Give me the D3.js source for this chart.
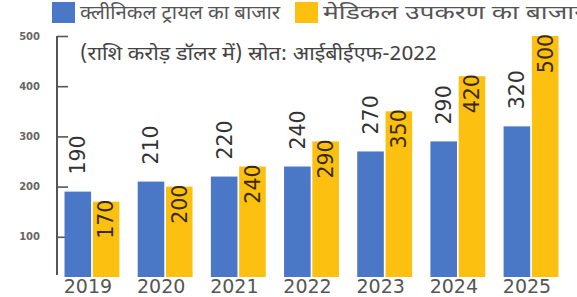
<!DOCTYPE html>
<html>
<head>
<meta charset="utf-8">
<script src="https://cdn.jsdelivr.net/npm/d3@7"></script>
<style>
  body { margin: 0; background: #fff; }
  svg { display: block; }
</style>
</head>
<body>
<svg id="chart" width="577" height="297"></svg>
<script>
const years = ["2019", "2020", "2021", "2022", "2023", "2024", "2025"];
const clinicalTrials = [190, 210, 220, 240, 270, 290, 320];
const medicalDevices = [170, 200, 240, 290, 350, 420, 500];
const yTicks = [100, 200, 300, 400, 500];
const seriesNames = ["क्लीनिकल ट्रायल का बाजार", "मेडिकल उपकरण का बाजार"];
const subtitle = "(राशि करोड़ डॉलर में) स्रोत: आईबीईएफ-2022";

const blue = "#4a78c6";
const yellow = "#fcc010";
const numFont = "'DejaVu Sans', sans-serif";

const svg = d3.select("#chart");
const baseY = 277;

const x = d3.scaleBand()
  .domain(years)
  .range([55, 568])
  .paddingInner(0.25)
  .paddingOuter(0.13);

const xs = d3.scaleBand()
  .domain([0, 1])
  .range([0, x.bandwidth()])
  .paddingInner(0.06);

const y = d3.scaleLinear()
  .domain([0, 500])
  .range([287, 36]);

// axis
const axis = svg.append("g")
  .attr("transform", "translate(57,0)")
  .call(d3.axisRight(y).tickValues(yTicks).tickSize(11).tickFormat(""));
axis.select(".domain").remove();
axis.selectAll("line").attr("stroke", "#555").attr("stroke-width", 1.6);
svg.append("line")
  .attr("x1", 57).attr("x2", 57)
  .attr("y1", y(500)).attr("y2", baseY - 2)
  .attr("stroke", "#555").attr("stroke-width", 2);

svg.append("g")
  .selectAll("text")
  .data(yTicks)
  .join("text")
  .attr("x", 40)
  .attr("y", d => y(d))
  .attr("dy", "0.35em")
  .attr("text-anchor", "end")
  .attr("font-family", numFont)
  .attr("font-size", 10)
  .attr("font-weight", "bold")
  .attr("fill", "#666")
  .text(d => d);

// bars
const data = years.map((yr, i) => ({ year: yr, vals: [clinicalTrials[i], medicalDevices[i]] }));
const colors = [blue, yellow];

const groups = svg.append("g")
  .selectAll("g")
  .data(data)
  .join("g")
  .attr("transform", d => `translate(${x(d.year)},0)`);

groups.selectAll("rect")
  .data(d => d.vals.map((v, k) => ({ v, k })))
  .join("rect")
  .attr("x", d => xs(d.k))
  .attr("y", d => y(d.v))
  .attr("width", xs.bandwidth())
  .attr("height", d => baseY - y(d.v))
  .attr("fill", d => colors[d.k]);

// value labels (rotated)
groups.selectAll("text.val")
  .data(d => d.vals.map((v, k) => ({ v, k })))
  .join("text")
  .attr("class", "val")
  .attr("transform", d => {
    const cx = xs(d.k) + xs.bandwidth() / 2;
    const ty = d.k === 0 ? y(d.v) - 17 : y(d.v) - 2;
    return `translate(${cx},${ty}) rotate(-90)`;
  })
  .attr("dy", "0.36em")
  .attr("text-anchor", d => d.k === 0 ? "start" : "end")
  .attr("font-family", numFont)
  .attr("font-size", 20.5)
  .attr("fill", d => d.k === 0 ? "#333" : "#3a2a00")
  .text(d => d.v);

// year labels
svg.append("g")
  .selectAll("text")
  .data(years)
  .join("text")
  .attr("x", d => x(d) + x.bandwidth() / 2 - 4)
  .attr("y", 293)
  .attr("text-anchor", "middle")
  .attr("font-family", numFont)
  .attr("font-size", 19)
  .attr("fill", "#555")
  .text(d => d);

// legend
const legend = svg.append("g");
const legendX = [52, 295];
legend.selectAll("rect")
  .data(seriesNames)
  .join("rect")
  .attr("x", (d, i) => legendX[i])
  .attr("y", 2)
  .attr("width", 23)
  .attr("height", 21)
  .attr("fill", (d, i) => colors[i]);
legend.selectAll("text")
  .data(seriesNames)
  .join("text")
  .attr("x", (d, i) => legendX[i] + 28)
  .attr("y", 19)
  .attr("font-family", "'Noto Sans Devanagari', 'Noto Sans', sans-serif")
  .attr("font-size", 19)
  .attr("fill", "#555")
  .attr("textLength", (d, i) => i === 0 ? 200 : 262)
  .attr("lengthAdjust", "spacingAndGlyphs")
  .text(d => d);

svg.append("text")
  .attr("x", 80)
  .attr("y", 60)
  .attr("font-family", "'Noto Sans Devanagari', 'Noto Sans', sans-serif")
  .attr("font-size", 19)
  .attr("fill", "#444")
  .attr("textLength", 357)
  .attr("lengthAdjust", "spacingAndGlyphs")
  .text(subtitle);
</script>
</body>
</html>
